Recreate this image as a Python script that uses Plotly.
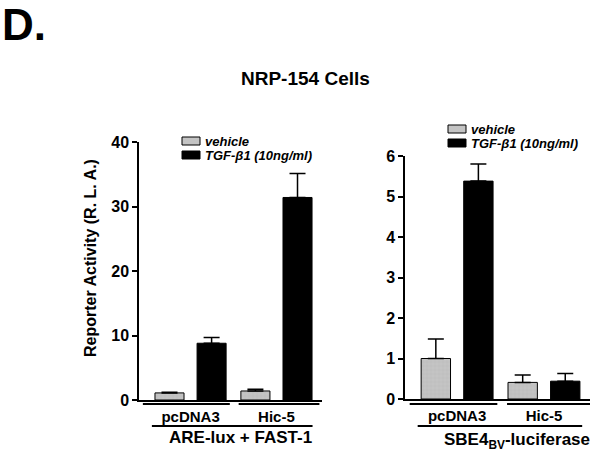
import plotly.graph_objects as go

# data
groups = ["pcDNA3", "Hic-5"]

are_vehicle = [1.1, 1.4]
are_vehicle_err = [0.1, 0.25]
are_tgf = [8.8, 31.4]
are_tgf_err = [0.9, 3.7]

sbe_vehicle = [1.0, 0.41]
sbe_vehicle_err = [0.48, 0.18]
sbe_tgf = [5.38, 0.44]
sbe_tgf_err = [0.42, 0.19]

legend_labels = ["vehicle", "TGF-\u03b21 (10ng/ml)"]

FONT = "Liberation Sans, Arial, sans-serif"
GREY = "#c4c4c4"
W, H = 602, 459


def px(x, y):
    return x / W, 1 - y / H


def bar(name, x, y, err, color, xa, ya, pattern=False):
    return go.Bar(
        x=x, y=y, name=name, xaxis=xa, yaxis=ya, showlegend=False,
        marker=dict(color=color, line=dict(color="black", width=1),
                    pattern=dict(shape="+", fgcolor="#a8a8a8", size=4, solidity=0.15) if pattern else None),
        error_y=dict(type="data", array=err, arrayminus=[0] * len(err), symmetric=False,
                     color="black", thickness=1.5, width=8),
    )


def label(text, x, y, size, xanchor="center", angle=0):
    tx, ty = px(x, y)
    fig.add_annotation(text=text, x=tx, y=ty, xref="paper", yref="paper",
                       xanchor=xanchor, yanchor="middle", showarrow=False, textangle=angle,
                       font=dict(family=FONT, size=size, color="black"))


fig = go.Figure()
fig.add_trace(bar(legend_labels[0], groups, are_vehicle, are_vehicle_err, GREY, "x", "y", True))
fig.add_trace(bar(legend_labels[1], groups, are_tgf, are_tgf_err, "black", "x", "y"))
fig.add_trace(bar(legend_labels[0], groups, sbe_vehicle, sbe_vehicle_err, GREY, "x2", "y2", True))
fig.add_trace(bar(legend_labels[1], groups, sbe_tgf, sbe_tgf_err, "black", "x2", "y2"))

xcommon = dict(range=[-0.6, 1.53], showline=True, linecolor="black", linewidth=1.5,
               ticks="", showgrid=False, zeroline=False, automargin=False,
               tickfont=dict(family=FONT, size=15, color="black", weight="bold"), ticklabelstandoff=2)
ycommon = dict(showline=True, linecolor="black", linewidth=1.5, ticks="outside", ticklen=5,
               tickwidth=1.5, tickcolor="black", showgrid=False, zeroline=False, automargin=False,
               tickfont=dict(family=FONT, size=16, color="black", weight="bold"))

fig.update_layout(
    width=W, height=H,
    margin=dict(l=0, r=0, t=0, b=0),
    paper_bgcolor="white", plot_bgcolor="white",
    barmode="group", bargap=0.02, bargroupgap=0.31,
    showlegend=False,
    xaxis=dict(domain=[139 / W, 322 / W], anchor="y", **xcommon),
    yaxis=dict(domain=[1 - 400 / H, 1 - 142 / H], range=[0, 40], dtick=10, anchor="x", **ycommon),
    xaxis2=dict(domain=[405 / W, 590 / W], anchor="y2", **xcommon),
    yaxis2=dict(domain=[1 - 399 / H, 1 - 156 / H], range=[0, 6], dtick=1, anchor="x2", **ycommon),
)

# group brackets under the bars
brackets = [
    ("x", -0.555, 0.457, 404), ("x", 0.56, 1.5, 404), ("x", -0.45, 1.42, 426),
    ("x2", -0.546, 0.463, 404), ("x2", 0.575, 1.535, 404), ("x2", -0.454, 1.44, 426),
]
for xr, x0, x1, py in brackets:
    fig.add_shape(type="line", xref=xr, yref="paper", x0=x0, x1=x1,
                  y0=1 - py / H, y1=1 - py / H, line=dict(color="black", width=2))

# legend keys (two small boxes + italic labels per panel)
for lx, ly in [(182, 141), (448, 129)]:
    for i, (fill, name) in enumerate(zip([GREY, "black"], legend_labels)):
        cy = ly + i * 14
        x0, y0 = px(lx, cy - 4)
        x1, y1 = px(lx + 18, cy + 4)
        fig.add_shape(type="rect", xref="paper", yref="paper", x0=x0, y0=y0, x1=x1, y1=y1,
                      fillcolor=fill, line=dict(color="black", width=1))
        label("<b><i>%s</i></b>" % name, lx + 21, cy, 13, xanchor="left")

label("<b>D.</b>", 0, 25, 44, xanchor="left")
label("<b>NRP-154 Cells</b>", 305, 78, 19)
label("<b>Reporter Activity (R. L. A.)</b>", 90, 258, 16, angle=-90)
label("<b>ARE-lux + FAST-1</b>", 240, 437, 17)
label("<b>SBE4<sub>BV</sub>-luciferase</b>", 517, 441, 17)

fig.write_html("out.html", config={"displayModeBar": False},
               post_script="document.body.style.margin='0px';")
